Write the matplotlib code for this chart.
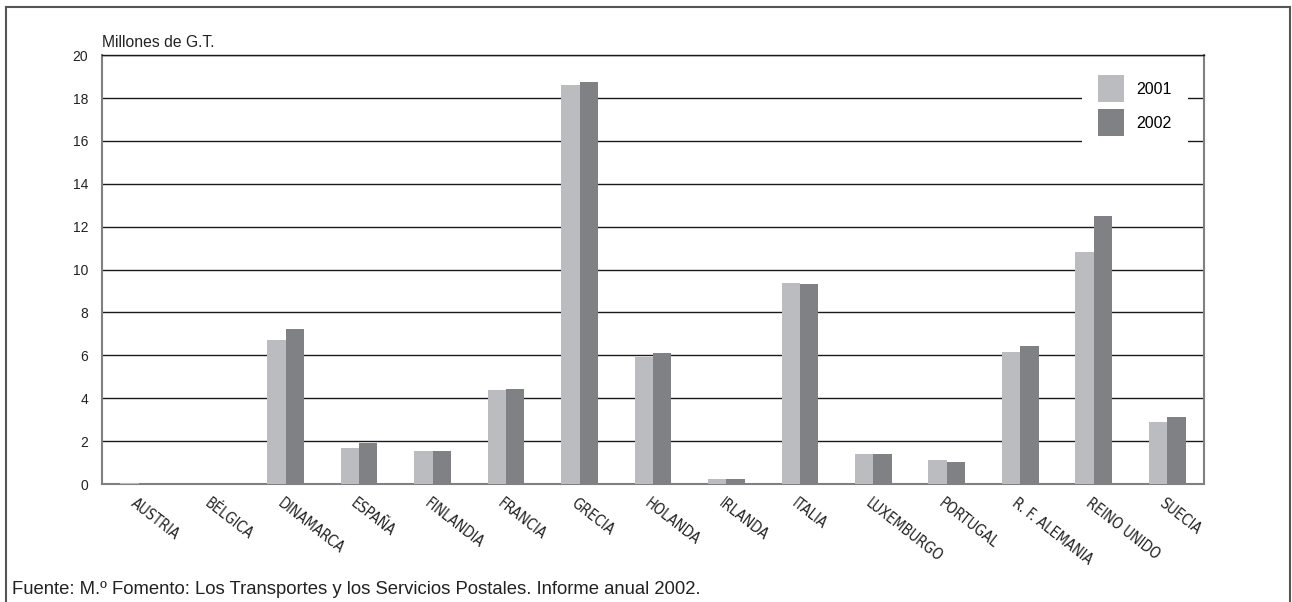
import matplotlib
matplotlib.use("Agg")
import matplotlib.pyplot as plt
from matplotlib.lines import Line2D
import numpy as np

paises = ["AUSTRIA", "BÉLGICA", "DINAMARCA", "ESPAÑA", "FINLANDIA", "FRANCIA",
          "GRECIA", "HOLANDA", "IRLANDA", "ITALIA", "LUXEMBURGO", "PORTUGAL",
          "R. F. ALEMANIA", "REINO UNIDO", "SUECIA"]
v2001 = [0.05, 0.02, 6.71, 1.68, 1.54, 4.38, 18.62, 5.92, 0.22, 9.37, 1.40, 1.12, 6.15, 10.84, 2.89]
v2002 = [0.02, 0.02, 7.23, 1.91, 1.54, 4.43, 18.73, 6.10, 0.22, 9.32, 1.40, 1.02, 6.43, 12.52, 3.12]
yticks = [0, 2, 4, 6, 8, 10, 12, 14, 16, 18, 20]

plt.rcParams['font.family'] = ['Liberation Sans', 'DejaVu Sans']

fig = plt.figure(figsize=(12.92, 6.02), dpi=100)
ax = fig.add_axes([0.0789, 0.196, 0.8530, 0.7124])

x = np.arange(len(paises))
w = 0.25
ax.bar(x - w/2, v2001, w, color='#bbbcc0', label='2001', zorder=3)
ax.bar(x + w/2, v2002, w, color='#808185', label='2002', zorder=3)

ax.set_xlim(-0.5, len(paises) - 0.5)
ax.set_ylim(0, 20)
ax.set_yticks(yticks)
ax.set_yticklabels([str(t) for t in yticks], fontsize=10, color='#222222')
ax.tick_params(axis='y', length=0, pad=10)
ax.yaxis.grid(True, color='#1a1a1a', linewidth=1.0, zorder=0)
ax.set_axisbelow(True)

ax.set_xticks(x)
ax.set_xticklabels([])
ax.tick_params(axis='x', length=0)
for i, p in enumerate(paises):
    ax.text(i - 0.02, -0.55, p, rotation=-38, rotation_mode='anchor',
            ha='left', va='top', fontsize=10.5, color='#222222',
            family=['Liberation Sans Narrow', 'DejaVu Sans'], stretch='condensed')

for s in ['left', 'right', 'bottom']:
    ax.spines[s].set_color('#808080')
    ax.spines[s].set_linewidth(1.5)
ax.spines['top'].set_color('#1a1a1a')
ax.spines['top'].set_linewidth(1.0)

ax.text(0.0, 1.012, "Millones de G.T.", transform=ax.transAxes, fontsize=11.3,
        ha='left', va='bottom', color='#222222')

leg = ax.legend(loc='upper right', bbox_to_anchor=(0.9855, 0.99), frameon=True,
                fontsize=11.5, handlelength=1.65, handleheight=2.2, labelspacing=0.45,
                handletextpad=0.8, borderpad=1.0, borderaxespad=0)
leg.get_frame().set_facecolor('white')
leg.get_frame().set_edgecolor('none')
leg.get_frame().set_alpha(1)
leg.set_zorder(5)

fig.text(0.0093, 0.006, "Fuente: M.º Fomento: Los Transportes y los Servicios Postales. Informe anual 2002.",
         fontsize=13.3, ha='left', va='bottom', color='#222222')

# marco exterior
for xs, ys in [([0.005, 0.005], [0.0, 0.989]), ([0.005, 0.9985], [0.989, 0.989]),
               ([0.9985, 0.9985], [0.989, 0.0])]:
    fig.add_artist(Line2D(xs, ys, transform=fig.transFigure, color='#555555', linewidth=1.5))

fig.savefig("out.png", dpi=100)
